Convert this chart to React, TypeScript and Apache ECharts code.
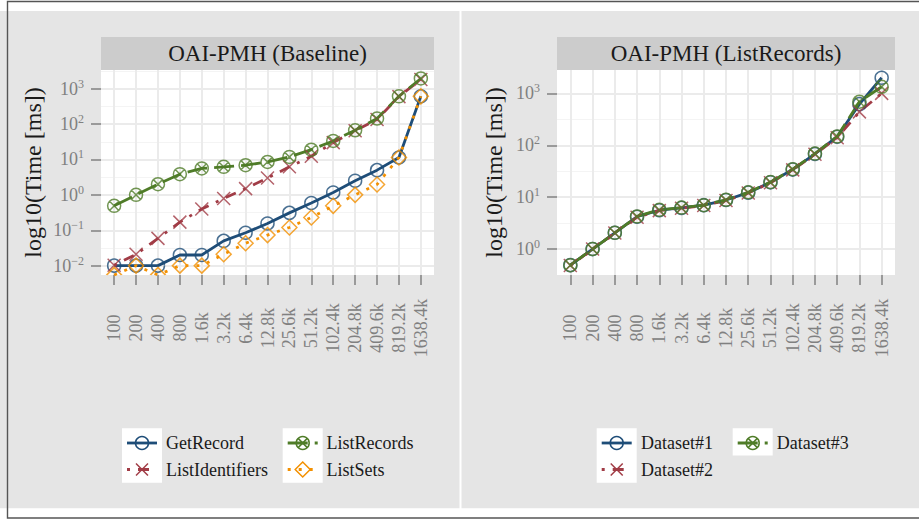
import React, { useEffect, useRef } from 'react';
import * as echarts from 'echarts';

// ---------- data ----------
const categories = ['100', '200', '400', '800', '1.6k', '3.2k', '6.4k', '12.8k', '25.6k', '51.2k', '102.4k', '204.8k', '409.6k', '819.2k', '1638.4k'];

// OAI-PMH (Baseline), time in ms (0 = not measurable, drawn at the panel floor like ggplot's -Inf)
const getRecord = [0.01, 0.01, 0.01, 0.02, 0.02, 0.05, 0.085, 0.155, 0.31, 0.59, 1.17, 2.5, 5.0, 11.4, 610];
const listIdentifiers = [0.0102, 0.021, 0.059, 0.17, 0.4, 0.79, 1.5, 3.0, 6.2, 12.4, 30, 65, 135, 600, 1820];
const listRecords = [0.49, 1.0, 2.0, 3.85, 5.6, 6.2, 6.9, 8.5, 11.8, 19, 33.5, 67, 144, 610, 1950];
const listSets = [0, 0.01, 0, 0.01, 0.01, 0.021, 0.043, 0.073, 0.12, 0.23, 0.49, 1.0, 1.97, 11.4, 610];

// OAI-PMH (ListRecords), time in ms
const dataset1 = [0.49, 1.0, 2.06, 4.2, 5.6, 6.2, 7.0, 8.8, 12.2, 19.3, 34, 68, 146, 620, 2000];
const dataset2 = [0.48, 1.0, 2.04, 4.1, 5.5, 6.1, 6.9, 8.6, 12.0, 19.0, 33.5, 67, 140, 440, 1000];
const dataset3 = [0.49, 1.0, 2.05, 4.25, 5.7, 6.3, 7.0, 8.9, 12.4, 19.5, 34.5, 69, 148, 690, 1340];

// log10 tick exponents
const baselineTicks = [-2, -1, 0, 1, 2, 3];
const listRecordsTicks = [0, 1, 2, 3];

const panelTitles = ['OAI-PMH (Baseline)', 'OAI-PMH (ListRecords)'];
const yTitle = 'log10(Time [ms])';

// ---------- style ----------
const FONT = "'Liberation Serif', 'Times New Roman', serif";
const BLUE = '#1e4d78';
const RED = '#a13c46';
const GREEN = '#4f7c28';
const ORANGE = '#f39000';
const TICKGREY = '#808080';
const GRIDMAJ = '#ebebeb';
const GRIDMIN = '#f4f4f4';

const DASH_SOLID: any = 'solid';
const DASH_LONG = [20, 7];
const DASH_DOTDASH = [3, 8, 11, 8];
const DASH_DOT = [3, 8];

const SYM_X = 'path://M0,0L10,10M10,0L0,10';
const SYM_OX = 'path://M0,5A5,5,0,1,1,10,5A5,5,0,1,1,0,5ZM1.464,1.464L8.536,8.536M8.536,1.464L1.464,8.536';
const SYM_DIAMOND = 'path://M5,0L10,5L5,10L0,5Z';
const SYM_DIAMOND_TOP = 'path://M0,10L5,0L10,10';

const L_RANGE = [-2.265, 3.53];
const R_RANGE = [-0.5, 3.45];

function toLog(values: number[], floor: number) {
  return values.map((v) => (v > 0 ? Math.log10(v) : floor));
}

function lineSeries(name: string, values: number[], floor: number, idx: number, color: string, dash: any) {
  return {
    type: 'line',
    name,
    xAxisIndex: idx,
    yAxisIndex: idx,
    data: toLog(values, floor),
    symbol: 'none',
    lineStyle: { color, width: 2.8, type: dash },
    z: 2,
    silent: true,
    clip: true,
  };
}

function pointSeries(name: string, values: number[], floor: number, idx: number, color: string, symbol: string, size: number) {
  // points at the floor (value 0 -> -Inf) are clipped by the panel edge: only the upper half shows
  const data = values.map((v) =>
    v > 0
      ? Math.log10(v)
      : symbol === SYM_DIAMOND
        ? { value: floor, symbol: SYM_DIAMOND_TOP, symbolSize: [size, size / 2], symbolOffset: [0, -size / 4] }
        : floor
  );
  return {
    type: 'scatter',
    name: name + ' ',
    xAxisIndex: idx,
    yAxisIndex: idx,
    data,
    symbol,
    symbolSize: size,
    itemStyle: { color: 'rgba(0,0,0,0)', borderColor: color, borderWidth: 1.5 },
    z: 3,
    silent: true,
  };
}

function expLabel(v: number) {
  const n = Math.round(v);
  if (Math.abs(v - n) > 1e-6) return '';
  const e = n < 0 ? '\u2212' + Math.abs(n) : String(n);
  return `{b|10}{s|${e}}`;
}

function yAxisMain(grid: number, range: number[], ticks: number[]) {
  return {
    gridIndex: grid,
    type: 'value',
    min: range[0],
    max: range[1],
    axisLine: { show: false },
    axisTick: { show: true, length: 10, customValues: ticks, lineStyle: { color: TICKGREY, width: 1.5 } },
    axisLabel: {
      customValues: ticks,
      margin: 17,
      formatter: expLabel,
      rich: {
        b: { fontSize: 18, fontFamily: FONT, color: TICKGREY, lineHeight: 22 },
        s: { fontSize: 12, fontFamily: FONT, color: TICKGREY, lineHeight: 12, verticalAlign: 'top' },
      },
    },
    splitLine: { show: true, lineStyle: { color: GRIDMAJ, width: 2 } },
    minorTick: { show: false, splitNumber: 2 },
    minorSplitLine: { show: true, lineStyle: { color: GRIDMIN, width: 1.2 } },
  };
}

function yAxisHidden(grid: number, range: number[]) {
  return { gridIndex: grid, type: 'value', min: range[0], max: range[1], show: false, splitLine: { show: false } };
}

function xAxisCat(grid: number) {
  return {
    gridIndex: grid,
    type: 'category',
    position: 'bottom',
    data: categories,
    boundaryGap: false,
    axisLine: { show: false, onZero: false },
    axisTick: { show: true, length: 10, lineStyle: { color: TICKGREY, width: 1.5 } },
    axisLabel: { interval: 0, rotate: 90, align: 'center', margin: 53, fontSize: 18, fontFamily: FONT, color: TICKGREY },
    splitLine: { show: true, lineStyle: { color: GRIDMAJ, width: 2 } },
  };
}

function xAxisHidden(grid: number) {
  return { gridIndex: grid, type: 'value', min: 0, max: 1, show: false, splitLine: { show: false } };
}

// legend key drawing
function keyElems(cx: number, cy: number, color: string, dash: any, sym: string) {
  const els: any[] = [];
  els.push({
    type: 'line',
    z: 5,
    shape: { x1: cx - 15, y1: cy, x2: cx + 15, y2: cy },
    style: { stroke: color, lineWidth: 2.8, lineDash: dash === 'solid' ? null : dash },
  });
  const st = { fill: 'none', stroke: color, lineWidth: 1.5 };
  if (sym === 'circle' || sym === 'ox') {
    els.push({ type: 'circle', z: 6, shape: { cx, cy, r: 6.5 }, style: st });
  }
  if (sym === 'x' || sym === 'ox') {
    const d = sym === 'x' ? 6 : 4.6;
    els.push({ type: 'line', z: 6, shape: { x1: cx - d, y1: cy - d, x2: cx + d, y2: cy + d }, style: st });
    els.push({ type: 'line', z: 6, shape: { x1: cx - d, y1: cy + d, x2: cx + d, y2: cy - d }, style: st });
  }
  if (sym === 'diamond') {
    els.push({ type: 'polygon', z: 6, shape: { points: [[cx, cy - 7.5], [cx + 7.5, cy], [cx, cy + 7.5], [cx - 7.5, cy]] }, style: st });
  }
  return els;
}

function legendText(x: number, y: number, text: string) {
  return {
    type: 'text',
    z: 6,
    x,
    y,
    style: { text, fontSize: 18, fontFamily: FONT, fill: '#1a1a1a', align: 'left', textAlign: 'left', verticalAlign: 'middle', textVerticalAlign: 'middle' },
  };
}

function rect(x: number, y: number, w: number, h: number, fill: string, z: number) {
  return { type: 'rect', z, shape: { x, y, width: w, height: h }, style: { fill } };
}

function centeredText(x: number, y: number, text: string, size: number, rotation = 0) {
  return {
    type: 'text',
    z: -8,
    x,
    y,
    rotation,
    style: { text, fontSize: size, fontFamily: FONT, fill: '#1a1a1a', align: 'center', textAlign: 'center', verticalAlign: 'middle', textVerticalAlign: 'middle' },
  };
}

function buildOption() {
  const graphics: any[] = [
    rect(0, 11, 459.5, 497.3, '#e5e5e5', -10),
    rect(461.5, 11, 457.5, 497.3, '#e5e5e5', -10),
    rect(101, 70, 333, 205, '#ffffff', -9),
    rect(557, 70, 338, 205, '#ffffff', -9),
    rect(101, 37, 333, 33, '#cccccc', -9),
    rect(557, 37, 338, 33, '#cccccc', -9),
    centeredText(267.5, 53.5, panelTitles[0], 23),
    centeredText(726, 53.5, panelTitles[1], 23),
    centeredText(33, 172.5, yTitle, 24, Math.PI / 2),
    centeredText(493.5, 172.5, yTitle, 24, Math.PI / 2),
    // legend key backgrounds
    rect(122, 428.3, 40, 54.4, '#ffffff', 4),
    rect(282.7, 428.3, 40, 54.4, '#ffffff', 4),
    rect(596.7, 428.3, 40, 54.4, '#ffffff', 4),
    rect(732.7, 428.3, 40, 27.2, '#ffffff', 4),
    ...keyElems(142, 443, BLUE, DASH_SOLID, 'circle'),
    ...keyElems(142, 469.5, RED, DASH_DOTDASH, 'x'),
    ...keyElems(302.7, 443, GREEN, DASH_LONG, 'ox'),
    ...keyElems(302.7, 469.5, ORANGE, DASH_DOT, 'diamond'),
    legendText(166, 443, 'GetRecord'),
    legendText(166, 469.5, 'ListIdentifiers'),
    legendText(326.5, 443, 'ListRecords'),
    legendText(326.5, 469.5, 'ListSets'),
    ...keyElems(616.7, 443, BLUE, DASH_SOLID, 'circle'),
    ...keyElems(616.7, 469.5, RED, DASH_DOTDASH, 'x'),
    ...keyElems(752.7, 443, GREEN, DASH_LONG, 'ox'),
    legendText(641, 443, 'Dataset#1'),
    legendText(641, 469.5, 'Dataset#2'),
    legendText(776.7, 443, 'Dataset#3'),
    // outer frame
    { type: 'rect', z: 20, shape: { x: 7.5, y: 1.5, width: 920, height: 516.5 }, style: { fill: 'none', stroke: '#555555', lineWidth: 1.4 } },
  ];

  const uL = 333 / 15.2;
  const uR = 338 / 15.2;

  return {
    animation: false,
    backgroundColor: '#ffffff',
    textStyle: { fontFamily: FONT },
    grid: [
      { left: 101, top: 70, width: 333, height: 205 },
      { left: 101 + 0.6 * uL, top: 70, width: 14 * uL, height: 205 },
      { left: 557, top: 70, width: 338, height: 205 },
      { left: 557 + 0.6 * uR, top: 70, width: 14 * uR, height: 205 },
    ],
    xAxis: [xAxisHidden(0), xAxisCat(1), xAxisHidden(2), xAxisCat(3)],
    yAxis: [
      yAxisMain(0, L_RANGE, baselineTicks),
      yAxisHidden(1, L_RANGE),
      yAxisMain(2, R_RANGE, listRecordsTicks),
      yAxisHidden(3, R_RANGE),
    ],
    graphic: { elements: graphics },
    series: [
      lineSeries('GetRecord', getRecord, L_RANGE[0], 1, BLUE, DASH_SOLID),
      lineSeries('ListIdentifiers', listIdentifiers, L_RANGE[0], 1, RED, DASH_DOTDASH),
      lineSeries('ListRecords', listRecords, L_RANGE[0], 1, GREEN, DASH_LONG),
      lineSeries('ListSets', listSets, L_RANGE[0], 1, ORANGE, DASH_DOT),
      pointSeries('GetRecord', getRecord, L_RANGE[0], 1, BLUE, 'circle', 13),
      pointSeries('ListIdentifiers', listIdentifiers, L_RANGE[0], 1, RED, SYM_X, 13),
      pointSeries('ListRecords', listRecords, L_RANGE[0], 1, GREEN, SYM_OX, 13),
      pointSeries('ListSets', listSets, L_RANGE[0], 1, ORANGE, SYM_DIAMOND, 15),

      lineSeries('Dataset#1', dataset1, R_RANGE[0], 3, BLUE, DASH_SOLID),
      lineSeries('Dataset#2', dataset2, R_RANGE[0], 3, RED, DASH_DOTDASH),
      lineSeries('Dataset#3', dataset3, R_RANGE[0], 3, GREEN, DASH_LONG),
      pointSeries('Dataset#1', dataset1, R_RANGE[0], 3, BLUE, 'circle', 13),
      pointSeries('Dataset#2', dataset2, R_RANGE[0], 3, RED, SYM_X, 13),
      pointSeries('Dataset#3', dataset3, R_RANGE[0], 3, GREEN, SYM_OX, 13),
    ],
  };
}

export default function App() {
  const ref = useRef<HTMLDivElement>(null);
  useEffect(() => {
    if (!ref.current) return;
    const chart = echarts.init(ref.current, undefined, { renderer: 'svg' });
    chart.setOption(buildOption() as any);
    return () => chart.dispose();
  }, []);
  return (
    <div
      ref={ref}
      style={{ position: 'absolute', left: 0, top: 0, width: 919, height: 519, background: '#ffffff' }}
    />
  );
}
